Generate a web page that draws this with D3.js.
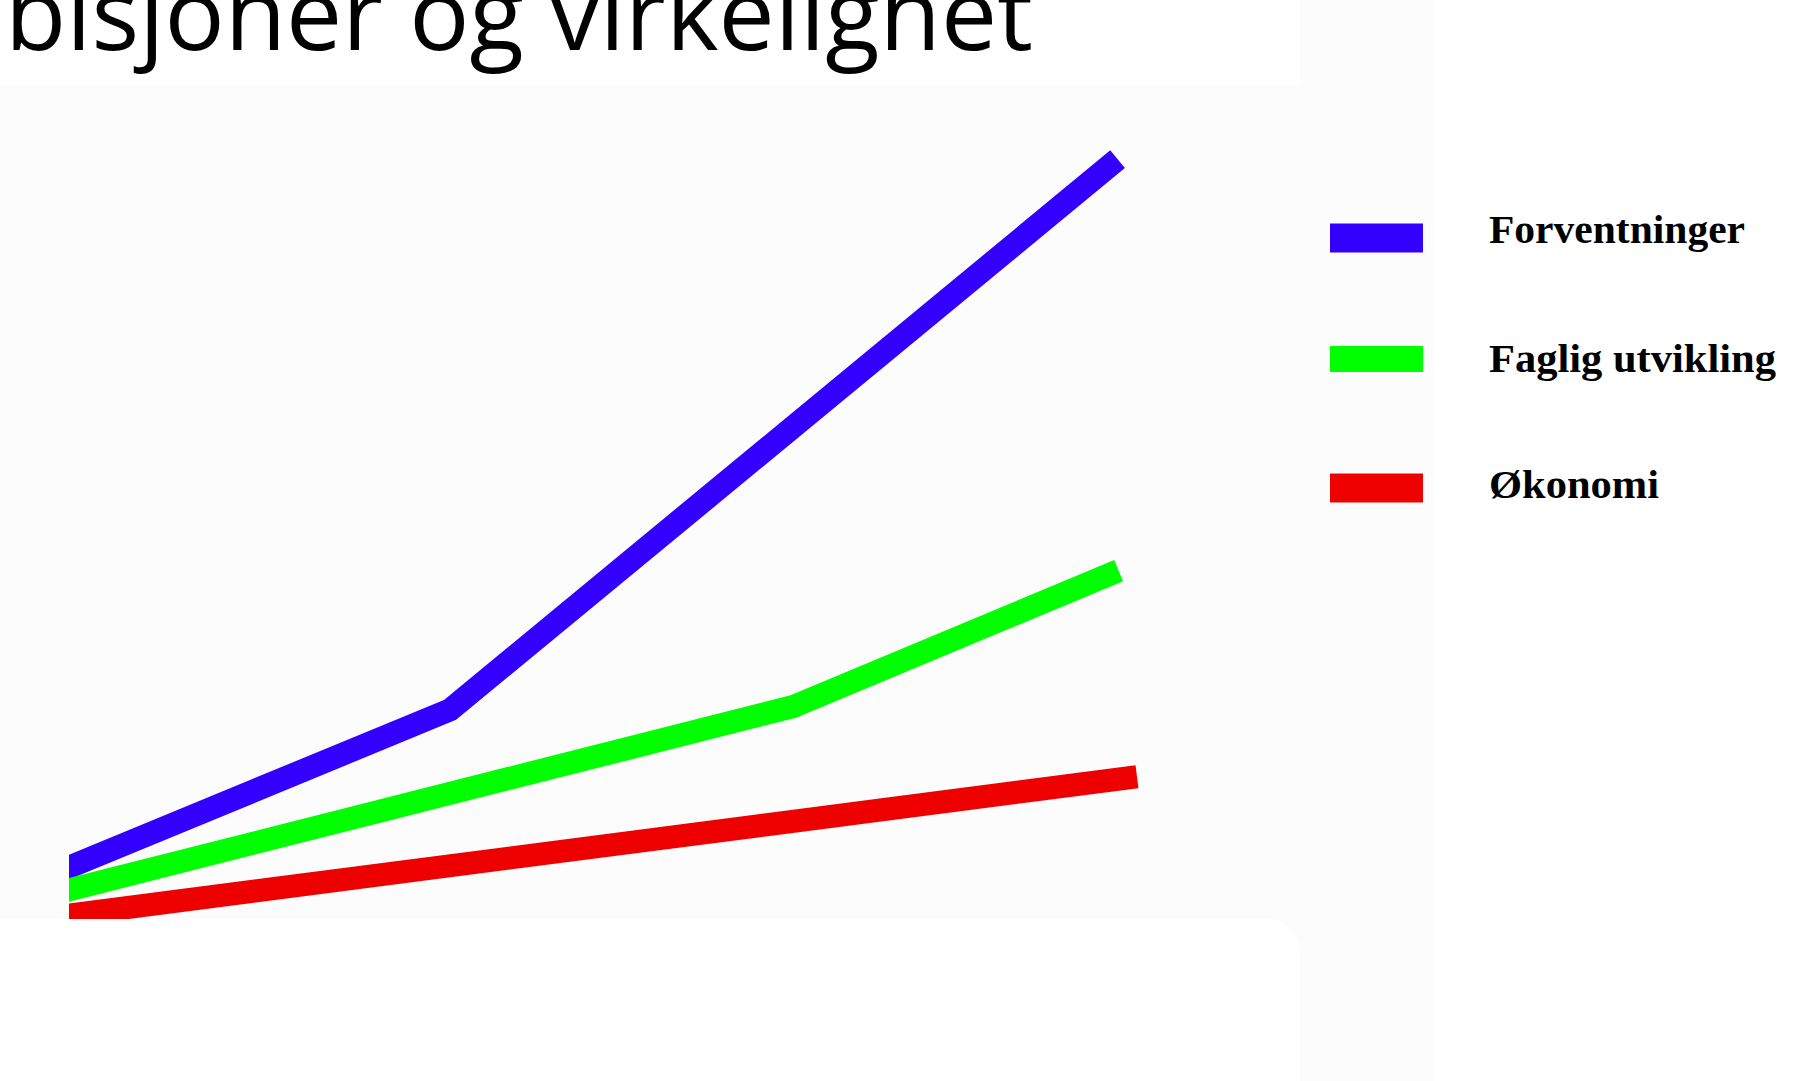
<!DOCTYPE html>
<html>
<head>
  <meta charset="utf-8">
  <script src="https://cdnjs.cloudflare.com/ajax/libs/d3/7.8.5/d3.min.js"></script>
  <title>Ambisjoner og virkelighet</title>
  <style>
    body { margin: 0; background: #fff; }
  </style>
</head>
<body>
<script>
// series (x: 0-10 along the slide, y: 0-100 up)
var serier = ["Forventninger", "Faglig utvikling", "Økonomi"];
var farger = ["#3300ff", "#00ff00", "#ee0000"];
var forventningerX = [0, 3.64, 9.82];
var forventningerY = [6.1, 27.2, 98.8];
var fagligX = [0, 6.81, 9.83];
var fagligY = [3.4, 27.6, 45.3];
var okonomiX = [0, 10];
var okonomiY = [0.3, 18.5];
var tittel = "bisjoner og virkelighet";

var W = 1794, H = 1081;

var svg = d3.select("body").append("svg")
  .attr("width", W)
  .attr("height", H);

// pale slide background behind the picture
svg.append("rect").attr("x", 0).attr("y", 0).attr("width", 1433).attr("height", H)
  .attr("fill", "#fcfcfc");
svg.append("rect").attr("x", 0).attr("y", 0).attr("width", 1300).attr("height", 86)
  .attr("fill", "#fff");
svg.append("rect").attr("x", -40).attr("y", 919).attr("width", 1340).attr("height", 250)
  .attr("rx", 33).attr("fill", "#fff");

var x = d3.scaleLinear().domain([0, 10]).range([57, 1137]);
var y = d3.scaleLinear().domain([0, 100]).range([919, 150]);

svg.append("clipPath").attr("id", "plot")
  .append("rect").attr("x", 69).attr("y", 80).attr("width", 1364).attr("height", 839);

var linjer = [
  { navn: serier[0], farge: farger[0], xs: forventningerX, ys: forventningerY },
  { navn: serier[1], farge: farger[1], xs: fagligX, ys: fagligY },
  { navn: serier[2], farge: farger[2], xs: okonomiX, ys: okonomiY }
];

var line = d3.line()
  .x(function(d) { return x(d[0]); })
  .y(function(d) { return y(d[1]); });

svg.append("g").attr("clip-path", "url(#plot)")
  .selectAll("path").data(linjer).enter().append("path")
  .attr("d", function(d) { return line(d3.zip(d.xs, d.ys)); })
  .attr("fill", "none")
  .attr("stroke", function(d) { return d.farge; })
  .attr("stroke-width", 23)
  .attr("stroke-linejoin", "miter");

// legend
var legendY = [238, 359, 488];
var rectH = [29, 26, 29];
var textW = [256, 287, 170];
var textBase = [243, 372, 498];

var leg = svg.append("g").selectAll("g").data(linjer).enter().append("g");
leg.append("rect")
  .attr("x", 1330)
  .attr("y", function(d, i) { return legendY[i] - rectH[i] / 2; })
  .attr("width", 93)
  .attr("height", function(d, i) { return rectH[i]; })
  .attr("fill", function(d) { return d.farge; });
leg.append("text")
  .attr("x", 1489)
  .attr("y", function(d, i) { return textBase[i]; })
  .attr("font-family", "'Liberation Serif', 'DejaVu Serif', serif")
  .attr("font-weight", "bold")
  .attr("font-size", 40)
  .attr("fill", "#000")
  .attr("textLength", function(d, i) { return textW[i]; })
  .attr("lengthAdjust", "spacingAndGlyphs")
  .text(function(d) { return d.navn; });

// title, cut by the top of the slide
var t = svg.append("text")
  .attr("x", 5)
  .attr("y", 49.5)
  .attr("font-family", "'Open Sans', sans-serif")
  .attr("font-weight", 400)
  .attr("font-size", 100)
  .attr("fill", "#000")
  .text(tittel);
var bredde = t.node().getComputedTextLength();
t.attr("font-size", 100 * 1028 / bredde);
</script>
</body>
</html>
